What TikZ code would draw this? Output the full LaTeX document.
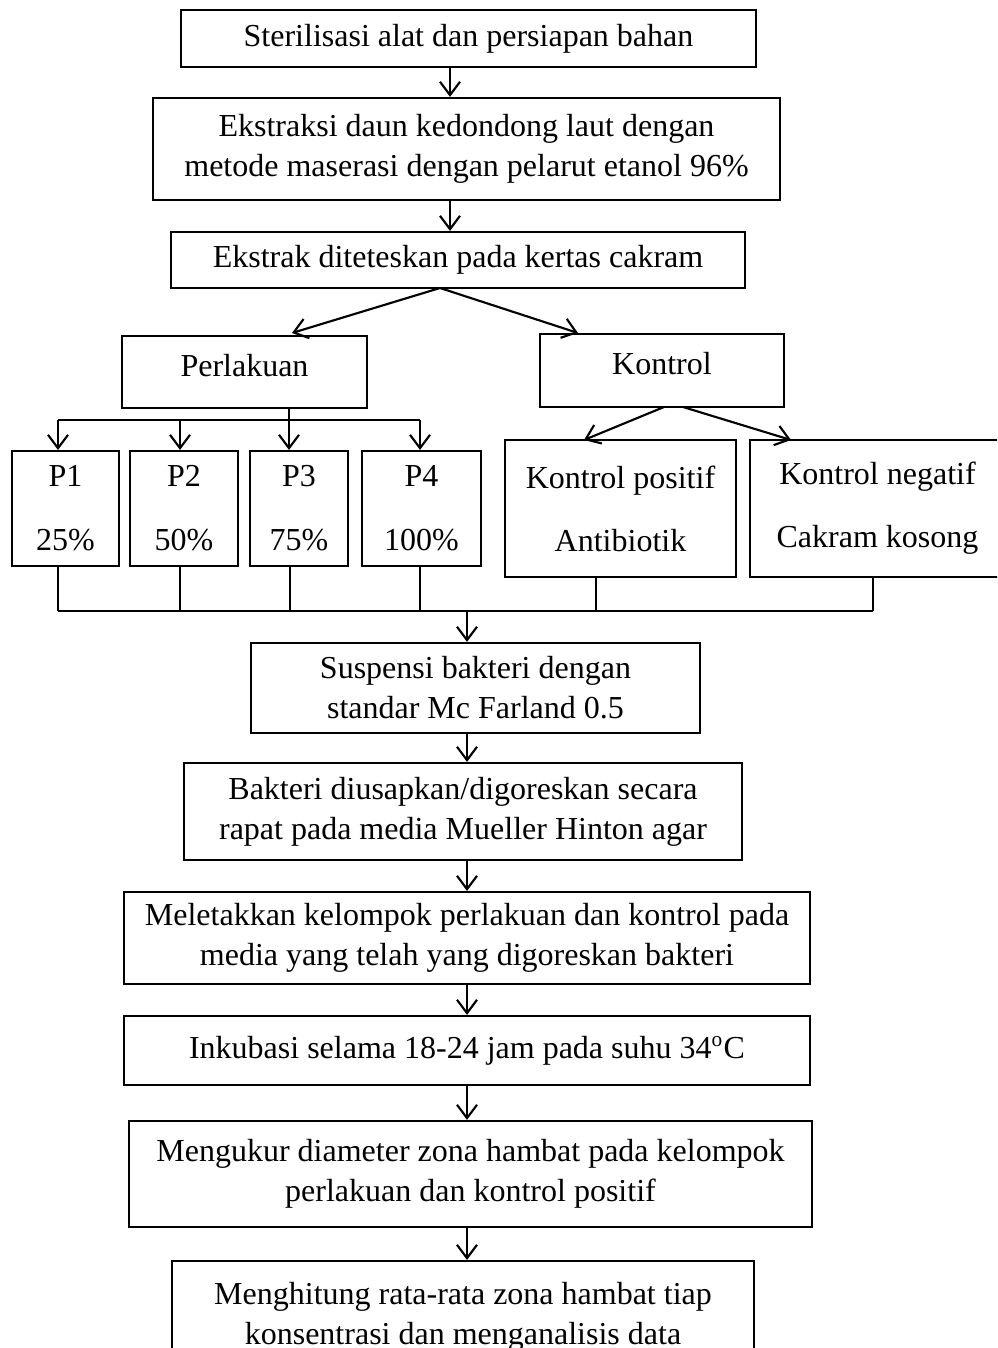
\documentclass[tikz,border=0pt]{standalone}
\usepackage{fontspec}
\setmainfont{Liberation Serif}
\usetikzlibrary{arrows.meta}

\tikzset{
    box/.style={draw, line width=0.8pt, align=center, inner sep=0pt, font=\fontsize{12}{15}\selectfont},
    arr/.style={line width=0.8pt, -{Straight Barb[length=5pt,width=7.5pt]}},
    link/.style={line width=0.5pt}
}

\begin{document}
\begin{tikzpicture}[x=0.375pt,y=-0.375pt]
        \clip (0,0) rectangle (997,1348);

        % main steps (top)
        \node[box, minimum width=215.6pt, minimum height=21.4pt] (steril) at (468.5,38.5) {Sterilisasi alat dan persiapan bahan};
        \node[box, minimum width=235.1pt, minimum height=38.3pt] (ekstr) at (466.5,149) {Ekstraksi daun kedondong laut dengan\\metode maserasi dengan pelarut etanol 96\%};
        \node[box, minimum width=215.3pt, minimum height=21pt] (tetes) at (458,260) {Ekstrak diteteskan pada kertas cakram};

        % groups
        \node[box, minimum width=91.9pt, minimum height=27pt, text depth=5pt] (perl) at (244.5,372) {Perlakuan};
        \node[box, minimum width=91.5pt, minimum height=27.4pt, text depth=5pt] (kont) at (662,370.5) {Kontrol};

        \node[box, minimum width=40.1pt, minimum height=43.1pt] (p1) at (65.5,508.5) {P1\\[9pt]25\%};
        \node[box, minimum width=40.5pt, minimum height=43.1pt] (p2) at (184,508.5) {P2\\[9pt]50\%};
        \node[box, minimum width=36.8pt, minimum height=43.1pt] (p3) at (299,508.5) {P3\\[9pt]75\%};
        \node[box, minimum width=44.6pt, minimum height=43.1pt] (p4) at (421.5,508.5) {P4\\[9pt]100\%};
        \node[box, minimum width=86.6pt, minimum height=51.4pt] (kpos) at (620.5,508.5) {Kontrol positif\\[8.6pt]Antibiotik};
        \node[box, minimum width=95.6pt, minimum height=51.4pt] (kneg) at (877.5,508.5) {Kontrol negatif\\[8.6pt]Cakram kosong};

        % main steps (bottom)
        \node[box, minimum width=168.4pt, minimum height=33.8pt] (susp) at (475.5,688) {Suspensi bakteri dengan\\standar Mc Farland 0.5};
        \node[box, minimum width=209.3pt, minimum height=36.4pt] (usap) at (463,811.5) {Bakteri diusapkan/digoreskan secara\\rapat pada media Mueller Hinton agar};
        \node[box, minimum width=257.3pt, minimum height=34.5pt] (letak) at (467,938) {Meletakkan kelompok perlakuan dan kontrol pada\\media yang telah yang digoreskan bakteri};
        \node[box, minimum width=257.3pt, minimum height=25.9pt] (inkub) at (467,1050.5) {Inkubasi selama 18-24 jam pada suhu 34\textsuperscript{o}C};
        \node[box, minimum width=256.1pt, minimum height=39.8pt] (ukur) at (470.5,1174) {Mengukur diameter zona hambat pada kelompok\\perlakuan dan kontrol positif};
        \node[box, minimum width=218.3pt, minimum height=42pt] (hitung) at (463,1317) {Menghitung rata-rata zona hambat tiap\\konsentrasi dan menganalisis data};

        \coordinate (upper) at (450,0);
        \coordinate (lower) at (467,0);
        \coordinate (fork) at (440,288);
        \coordinate (forkL) at (292,333);
        \coordinate (forkR) at (578,333);
        \coordinate (kontL) at (664,407);
        \coordinate (kontR) at (683,407);
        \coordinate (kposIn) at (584,440);
        \coordinate (knegIn) at (791,440);
        \coordinate (barL) at (58,420);
        \coordinate (barR) at (420,420);
        \coordinate (stem) at (289,420);
        \coordinate (busL) at (58,611);
        \coordinate (busR) at (873,611);
        \coordinate (busM) at (467,611);

        \draw[arr] (steril.south -| upper) -- (ekstr.north -| upper);
        \draw[arr] (ekstr.south -| upper) -- (tetes.north -| upper);
        \draw[arr] (fork) -- (forkL);
        \draw[arr] (fork) -- (forkR);

        % perlakuan branches
        \draw[line width=0.8pt] (barL) -- (barR);
        \draw[arr] (perl.south -| stem) -- (p3.north -| stem);
        \foreach \n/\x in {p1/58, p2/180, p4/420}
            \draw[arr] (\x,420) -- (\n.north -| \x,0);

        % kontrol branches
        \draw[arr] (kontL) -- (kposIn);
        \draw[arr] (kontR) -- (knegIn);

        % collecting line
        \foreach \n/\x in {p1/58, p2/180, p3/290, p4/420, kpos/596, kneg/873}
            \draw[link] (\n.south -| \x,0) -- (\x,611);
        \draw[line width=0.8pt] (busL) -- (busR);
        \draw[arr] (busM) -- (busM |- susp.north);

        \foreach \a/\b in {susp/usap, usap/letak, letak/inkub, inkub/ukur, ukur/hitung}
            \draw[arr] (\a.south -| lower) -- (\b.north -| lower);
\end{tikzpicture}
\end{document}
